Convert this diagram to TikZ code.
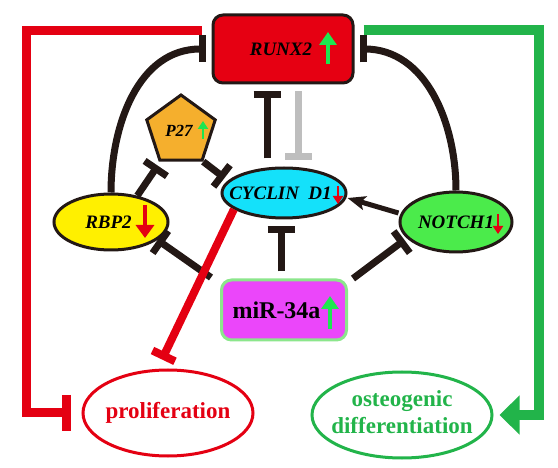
\documentclass[tikz,border=0pt]{standalone}
\usepackage{fontspec}
\setmainfont{Liberation Serif}
\usepackage{tikz}
\usetikzlibrary{arrows.meta,shapes.geometric}

\definecolor{ink}{RGB}{35,24,21}
\definecolor{boxred}{RGB}{230,0,18}
\definecolor{redline}{RGB}{228,0,18}
\definecolor{greenline}{RGB}{34,180,74}
\definecolor{upgreen}{RGB}{30,230,80}
\definecolor{cyclin}{RGB}{20,225,250}
\definecolor{rbpyellow}{RGB}{255,240,0}
\definecolor{notchgreen}{RGB}{75,235,75}
\definecolor{porange}{RGB}{245,175,45}
\definecolor{mirmagenta}{RGB}{235,70,250}
\definecolor{mirborder}{RGB}{140,230,140}
\definecolor{lightgray}{RGB}{190,190,190}

\newcommand{\ctext}[1]{\makebox[0pt]{#1}}

\tikzset{
  gene/.style={draw=ink, line width=3pt, inner sep=0pt,
    font=\fontsize{19}{22}\selectfont\bfseries\itshape},
  oval/.style={gene, ellipse},
  inh/.style={draw=ink, line width=7pt, -{Bar[width=27pt]}},
  act/.style={draw=ink, line width=5pt, -{Stealth[length=18pt,width=14pt,inset=4pt]}},
  redinh/.style={draw=redline, line width=8pt, -{Bar[width=25pt]}},
  redbar/.style={draw=redline, line width=9pt, -{Bar[width=36pt]}},
  greenarr/.style={draw=greenline, line width=10pt, -{Triangle[width=38pt,length=20pt]}},
  upsign/.style={draw=upgreen, line width=3.5pt, -{Triangle[width=17pt,length=13pt]}},
  downsign/.style={draw=redline, line width=3.5pt, -{Triangle[width=18pt,length=13pt]}},
  small/.style={line width=2.5pt, -{Triangle[width=10pt,length=8pt]}}
}

\begin{document}
\begin{tikzpicture}[x=1pt,y=-1pt]
\useasboundingbox (0,0) rectangle (558,468);

\node[gene, fill=boxred, rounded corners=10pt, minimum width=140pt, minimum height=68pt] (RUNX2) at (283,49) {\ctext{\hspace*{-4pt}RUNX2}};
\node[oval, fill=cyclin, minimum width=124pt, minimum height=50pt] (CYC) at (284,193) {\ctext{\hspace*{-7pt}CYCLIN\ \ D1}};
\node[oval, fill=rbpyellow, minimum width=114pt, minimum height=56pt] (RBP2) at (111,222) {\ctext{\hspace*{-5pt}RBP2}};
\node[oval, fill=notchgreen, minimum width=112pt, minimum height=60pt] (NOTCH1) at (456,222) {\ctext{NOTCH1}};
\node[gene, regular polygon, regular polygon sides=5, minimum size=72pt, fill=porange,
  font=\fontsize{17}{20}\selectfont\bfseries\itshape] (P27) at (181,131) {\ctext{\hspace*{-4pt}P27}};
\node[draw=mirborder, line width=3pt, fill=mirmagenta, rounded corners=10pt, minimum width=125pt, minimum height=60pt,
  inner sep=0pt, font=\fontsize{24}{28}\selectfont\bfseries] (MIR) at (284,310) {\ctext{\hspace*{-15pt}miR-34a}};
\node[ellipse, draw=redline, line width=3pt, minimum width=170pt, minimum height=86pt, inner sep=0pt,
  text=redline, font=\fontsize{23}{27}\selectfont\bfseries] (PROL) at (168,413) {\ctext{proliferation}};
\node[ellipse, draw=greenline, line width=3pt, minimum width=180pt, minimum height=86pt, inner sep=0pt,
  text=greenline, font=\fontsize{23}{27}\selectfont\bfseries] (OST) at (402,415)
  {\ctext{\begin{tabular}{@{}c@{}}osteogenic\\differentiation\end{tabular}}};

% regulation between the genes
\draw[inh] ([xshift=-17pt,yshift=8pt]CYC.north) -- ([xshift=-16pt,yshift=-7pt]RUNX2.south);
\draw[inh, draw=lightgray] ([xshift=15pt,yshift=-7pt]RUNX2.south) -- ([xshift=14pt,yshift=6pt]CYC.north);
\draw[inh] (RBP2.north) to[out=90,in=180] ([xshift=-6pt]RUNX2.west);
\draw[inh] (NOTCH1.north) to[out=90,in=0] ([xshift=5pt]RUNX2.east);
\draw[inh] (RBP2.45) -- ([xshift=-1pt,yshift=-4pt]P27.corner 3);
\draw[inh] (P27.corner 4) -- ([xshift=4pt,yshift=15pt]CYC.west);
\draw[inh] ([xshift=-9pt,yshift=1pt]MIR.north west) -- ([xshift=-12pt,yshift=-18pt]RBP2.east);
\draw[inh] ([xshift=-3pt,yshift=7pt]MIR.north) -- ([xshift=-3pt,yshift=-7pt]CYC.south);
\draw[inh] ([xshift=5pt]MIR.north east) -- ([xshift=6pt,yshift=-18pt]NOTCH1.west);
\draw[act] ([yshift=9pt]NOTCH1.west) -- ([yshift=-5pt]CYC.east);

% effects on the cell
\draw[redinh] (CYC.198) -- ([xshift=-6pt,yshift=9pt]PROL.north);
\draw[redbar] ([xshift=-10pt,yshift=18pt]RUNX2.west) -| ([xshift=-55pt]PROL.west) -- ([xshift=-11pt]PROL.west);
\draw[greenarr] ([xshift=9pt,yshift=19pt]RUNX2.east) -| ([xshift=45pt]OST.east) -- ([xshift=6pt]OST.east);

% up and down marks
\draw[upsign] (328,64) -- (328,32);
\draw[upsign, small] (203,139) -- (203,121);
\draw[upsign] (330,329) -- (330,296);
\draw[downsign] (145,205) -- (145,238);
\draw[downsign, small] (338,186) -- (338,204);
\draw[downsign, small] (498,214) -- (498,234);
\end{tikzpicture}
\end{document}
